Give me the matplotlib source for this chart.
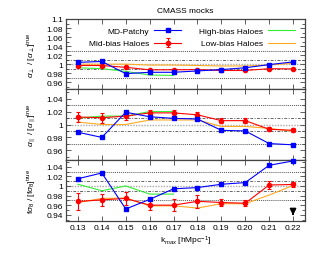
import matplotlib
matplotlib.use('Agg')
import matplotlib.pyplot as plt
from matplotlib.ticker import MultipleLocator, FuncFormatter

plt.rcParams['font.family'] = ['Liberation Sans', 'DejaVu Sans']
plt.rcParams['mathtext.fontset'] = 'custom'
plt.rcParams['mathtext.rm'] = 'Liberation Sans'
plt.rcParams['mathtext.it'] = 'Liberation Sans:italic'

# k_max values
kmax = [0.13, 0.14, 0.15, 0.16, 0.17, 0.18, 0.19, 0.20, 0.21, 0.22]
k_halo_high = [0.13, 0.14, 0.15, 0.16, 0.17]

# alpha_perp
aperp_patchy = [1.004, 1.006, 0.979, 0.982, 0.982, 0.985, 0.988, 0.992, 0.999, 1.005]
aperp_mid = [0.997, 0.997, 0.993, 0.9875, 0.9875, 0.988, 0.986, 0.986, 0.990, 0.9895]
aperp_mid_err = [0.0015, 0.0015, 0.0015, 0.0015, 0.0015, 0.0015, 0.0015, 0.0015, 0.0015, 0.0015]
aperp_high = [0.992, 0.990, 0.984, 0.976, 0.975]
aperp_low = [1.000, 1.000, 1.000, 0.998, 0.998, 0.997, 0.996, 0.996, 0.998, 1.002]

# alpha_par
apar_patchy = [0.988, 0.980, 1.019, 1.012, 1.0095, 1.0085, 0.991, 0.990, 0.9705, 0.9685]
apar_mid = [1.0116, 1.0105, 1.013, 1.018, 1.018, 1.015, 1.006, 1.006, 0.9926, 0.991]
apar_mid_err = [0.007, 0.008, 0.006, 0.005, 0.005, 0.004, 0.004, 0.004, 0.003, 0.003]
apar_high = [1.010, 1.013, 1.013, 1.020, 1.020]
apar_low = [1.0037, 1.000, 1.000, 1.007, 1.007, 1.007, 0.997, 0.997, 0.994, 0.9895]

# f sigma_8
fs8_patchy = [1.015, 1.027, 0.952, 0.972, 0.994, 0.9966, 1.0035, 1.007, 1.043, 1.052]
fs8_mid = [0.9676, 0.971, 0.974, 0.960, 0.960, 0.968, 0.9655, 0.964, 1.002, 1.003]
fs8_mid_err = [0.0175, 0.013, 0.013, 0.010, 0.013, 0.013, 0.007, 0.006, 0.008, 0.006]
fs8_high = [1.0035, 0.990, 1.000, 0.983, 0.983]
fs8_low = [0.9655, 0.974, 0.975, 0.9586, 0.9586, 0.954, 0.963, 0.963, 0.981, 1.001]

arrow_k = 0.22

blue = '#0000ff'
red = '#ff0000'
green = '#33ee33'
orange = '#ffaa22'
frame = '#444444'

fig = plt.figure(figsize=(3.3, 2.55), dpi=100)

left = 66 / 330.
width = (305 - 66) / 330.

ax1 = fig.add_axes([left, 1 - 90 / 255., width, 70 / 255.])
ax2 = fig.add_axes([left, 1 - 161 / 255., width, 71 / 255.])
ax3 = fig.add_axes([left, 1 - 222 / 255., width, 61 / 255.])


def fmt(v, pos):
	s = '%.2f' % v
	if s == '1.00':
		return '1'
	if s == '1.10':
		return '1.1'
	return s


def style(ax, ylo, yhi, ymin_tick, ymax_tick):
	for y, ls, c, lw in [(1.03, (0, (1, 1)), '#555555', 0.7),
						 (0.97, (0, (1, 1)), '#555555', 0.7),
						 (1.01, (0, (3, 1.5, 1, 1.5)), '#666666', 0.7),
						 (0.99, (0, (3, 1.5, 1, 1.5)), '#666666', 0.7),
						 (1.00, (0, (1, 1)), '#aaaaaa', 1.0)]:
		ax.axhline(y, color=c, ls=ls, lw=lw, zorder=1)
	ax.set_xlim(0.125, 0.225)
	ax.set_ylim(ylo, yhi)
	ax.set_xticks(kmax)
	n = int(round((ymax_tick - ymin_tick) / 0.02)) + 1
	ax.set_yticks([ymin_tick + 0.02 * i for i in range(n)])
	ax.yaxis.set_major_formatter(FuncFormatter(fmt))
	ax.yaxis.set_minor_locator(MultipleLocator(0.01))
	ax.tick_params(which='both', direction='in', top=True, right=True,
				   labelsize=6, color=frame, width=0.6, pad=2)
	ax.tick_params(which='major', length=3.5)
	ax.tick_params(which='minor', length=2)
	for sp in ax.spines.values():
		sp.set_color(frame)
		sp.set_linewidth(0.9)


def draw(ax, patchy, mid, mid_err, high, low):
	ax.plot(kmax, low, '-', color=orange, lw=0.8, zorder=3, label='Low-bias Haloes')
	ax.plot(k_halo_high, high, '-', color=green, lw=0.8, zorder=3, label='High-bias Haloes')
	ax.errorbar(kmax, mid, yerr=mid_err, fmt='-o', color=red, ms=3, lw=0.8,
				elinewidth=0.8, capsize=1.5, capthick=0.8, zorder=4, label='Mid-bias Haloes')
	ax.plot(kmax, patchy, '-s', color=blue, ms=3, lw=0.8, zorder=5, clip_on=False, label='MD-Patchy')


draw(ax1, aperp_patchy, aperp_mid, aperp_mid_err, aperp_high, aperp_low)
draw(ax2, apar_patchy, apar_mid, apar_mid_err, apar_high, apar_low)
draw(ax3, fs8_patchy, fs8_mid, fs8_mid_err, fs8_high, fs8_low)

style(ax1, 0.945, 1.1, 0.96, 1.1)
style(ax2, 0.945, 1.055, 0.96, 1.04)
style(ax3, 0.927, 1.054, 0.94, 1.04)

ax1.set_xticklabels([])
ax2.set_xticklabels([])
ax3.set_xticklabels(['%.2f' % k for k in kmax])

ax3.annotate('', xy=(arrow_k, 0.933), xytext=(arrow_k, 0.948),
			 arrowprops=dict(arrowstyle='-|>', color='k', lw=1.2, mutation_scale=9))

h, l = ax1.get_legend_handles_labels()
want = ['MD-Patchy', 'Mid-bias Haloes', 'High-bias Haloes', 'Low-bias Haloes']
hh = [h[l.index(w)] for w in want]
leg = ax1.legend(hh, want, ncol=2, markerfirst=False,
				 loc='upper right', bbox_to_anchor=(0.99, 0.99), frameon=False, fontsize=6,
				 handlelength=3.2, columnspacing=2.2, labelspacing=0.55, handletextpad=0.6)

ax1.set_title('CMASS mocks', fontsize=6, pad=5)
ax1.set_ylabel(r'$\alpha_\perp$ / $[\alpha_\perp]^{\rm true}$', fontsize=6, labelpad=6)
ax2.set_ylabel(r'$\alpha_\parallel$ / $[\alpha_\parallel]^{\rm true}$', fontsize=6, labelpad=6)
ax3.set_ylabel(r'f$\sigma_8$ / $[{\rm f}\sigma_8]^{\rm true}$', fontsize=6, labelpad=6)
ax3.set_xlabel(r'k$_{max}$ [hMpc$^{-1}$]', fontsize=6, labelpad=2)

plt.savefig('out.png', dpi=100)
plt.close()
